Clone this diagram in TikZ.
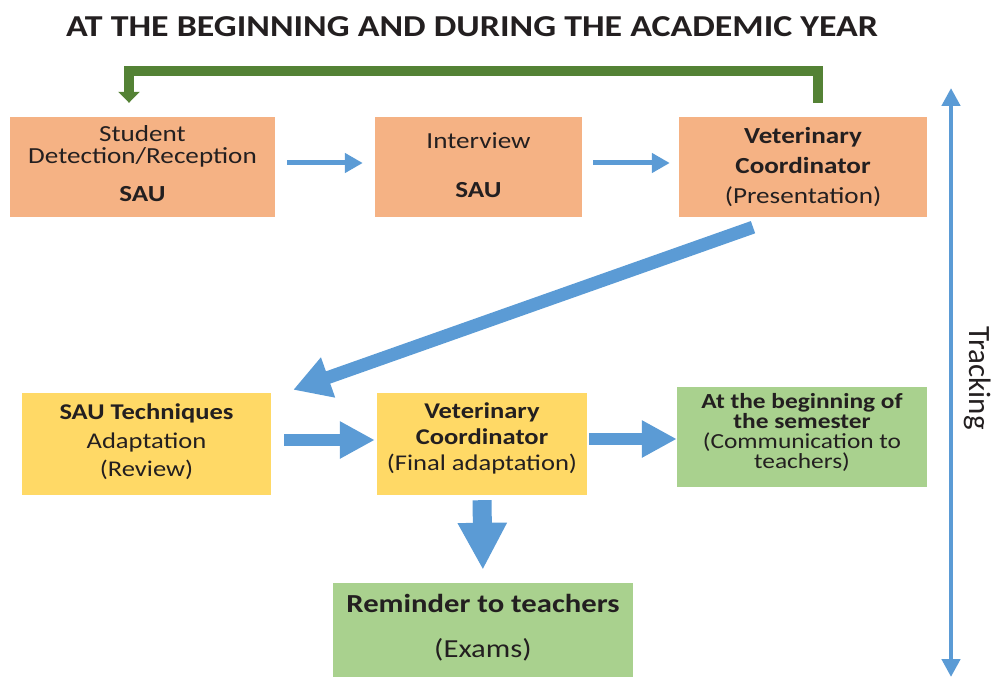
\documentclass[tikz,border=0pt]{standalone}
\usepackage{fontspec}
\setmainfont{Carlito}[FakeStretch=1.18]
\newfontfamily\trackfont{Carlito}
\usetikzlibrary{arrows.meta}
\definecolor{orangebox}{RGB}{245,178,132}
\definecolor{yellowbox}{RGB}{255,217,102}
\definecolor{greenbox}{RGB}{169,209,142}
\definecolor{bluearrow}{RGB}{91,155,213}
\definecolor{darkgreen}{RGB}{84,130,53}
\definecolor{textcol}{RGB}{35,31,32}
\tikzset{
  box/.style={rectangle, inner sep=0pt, align=center, text=textcol},
  obox/.style={box, fill=orangebox},
  ybox/.style={box, fill=yellowbox},
  gbox/.style={box, fill=greenbox},
  thinarrow/.style={draw=bluearrow, line width=5pt, -{Triangle[width=19pt,length=18pt]}},
  bigarrow/.style={draw=bluearrow, line width=12pt, -{Triangle[width=35pt,length=35pt]}},
  diagarrow/.style={draw=bluearrow, line width=13pt, -{Triangle[width=40pt,length=37pt]}},
  downarrow/.style={draw=bluearrow, line width=19pt, -{Triangle[width=46pt,length=47pt]}},
  trackarrow/.style={draw=bluearrow, line width=4.5pt, {Triangle[width=18pt,length=18pt]}-{Triangle[width=18pt,length=18pt]}},
  greenarrow/.style={draw=darkgreen, line width=10pt, line join=miter, -{Triangle[width=21pt,length=11pt]}},
}
\begin{document}
\begin{tikzpicture}[x=1pt,y=-1pt]
\useasboundingbox (0,0) rectangle (995,679);

\node[text=textcol, font=\fontsize{30.4}{34}\selectfont\bfseries] (title) at (472,27) {AT THE BEGINNING AND DURING THE ACADEMIC YEAR};

% row 1
\node[obox, minimum width=265pt, minimum height=100pt] (b1) at (142.5,167) {};
\node[box, font=\fontsize{23}{22}\selectfont] (t1) at (142.5,164) {Student\\Detection/Reception\\[16pt]\textbf{SAU}};

\node[obox, minimum width=207pt, minimum height=100pt] (b2) at (478.5,167) {};
\node[box, font=\fontsize{23}{24}\selectfont] (t2) at (478.5,165) {Interview\\[25pt]\textbf{SAU}};

\node[obox, minimum width=248pt, minimum height=100pt] (b3) at (803,167) {};
\node[box, font=\fontsize{23}{30}\selectfont] (t3) at (803,167) {\textbf{Veterinary}\\\textbf{Coordinator}\\(Presentation)};

% row 2
\node[ybox, minimum width=249pt, minimum height=102pt] (b4) at (146.5,444) {};
\node[box, font=\fontsize{22.5}{28.5}\selectfont] (t4) at (146.5,442) {\textbf{SAU Techniques}\\Adaptation\\(Review)};

\node[ybox, minimum width=210pt, minimum height=102pt] (b5) at (482,444) {};
\node[box, font=\fontsize{22.5}{26}\selectfont] (t5) at (482,438) {\textbf{Veterinary}\\\textbf{Coordinator}\\(Final adaptation)};

\node[gbox, minimum width=250pt, minimum height=100pt] (b6) at (802,437) {};
\node[box, font=\fontsize{21.5}{20}\selectfont] (t6) at (802,432) {\textbf{At the beginning of}\\\textbf{the semester}\\(Communication to\\teachers)};

\node[gbox, minimum width=300pt, minimum height=94pt] (b7) at (483,630) {};
\node[box, font=\fontsize{26}{27}\selectfont] (t7) at (483,628) {\textbf{Reminder to teachers}\\[18pt](Exams)};

% connectors
\draw[thinarrow, shorten <=12pt, shorten >=12pt] ([yshift=4pt]b1.east) -- ([yshift=4pt]b2.west);
\draw[thinarrow, shorten <=11pt, shorten >=9pt] ([yshift=4pt]b2.east) -- ([yshift=4pt]b3.west);
\draw[greenarrow] ([xshift=15pt,yshift=14pt]b3.north) -- ++(0,-32) -| ([xshift=-13.5pt,yshift=14pt]b1.north);
\draw[diagarrow] ([xshift=-50pt,yshift=-10pt]b3.south) -- ([xshift=22pt,yshift=3pt]b4.north east);
\draw[bigarrow, shorten <=13pt, shorten >=2pt] ([yshift=4pt]b4.east) -- ([yshift=4pt]b5.west);
\draw[bigarrow, shorten <=2pt] ([yshift=5pt]b5.east) -- ([yshift=-2pt]b6.west);
\draw[downarrow, shorten <=5pt, shorten >=13pt] (b5.south) -- (b7.north);

\coordinate (trtop) at (951,88);
\coordinate (trbot) at (951,677);
\draw[trackarrow] (trtop) -- (trbot);
\node[text=textcol, rotate=-90, font=\trackfont\fontsize{31}{32}\selectfont] (track) at (978,378) {Tracking};
\end{tikzpicture}
\end{document}
